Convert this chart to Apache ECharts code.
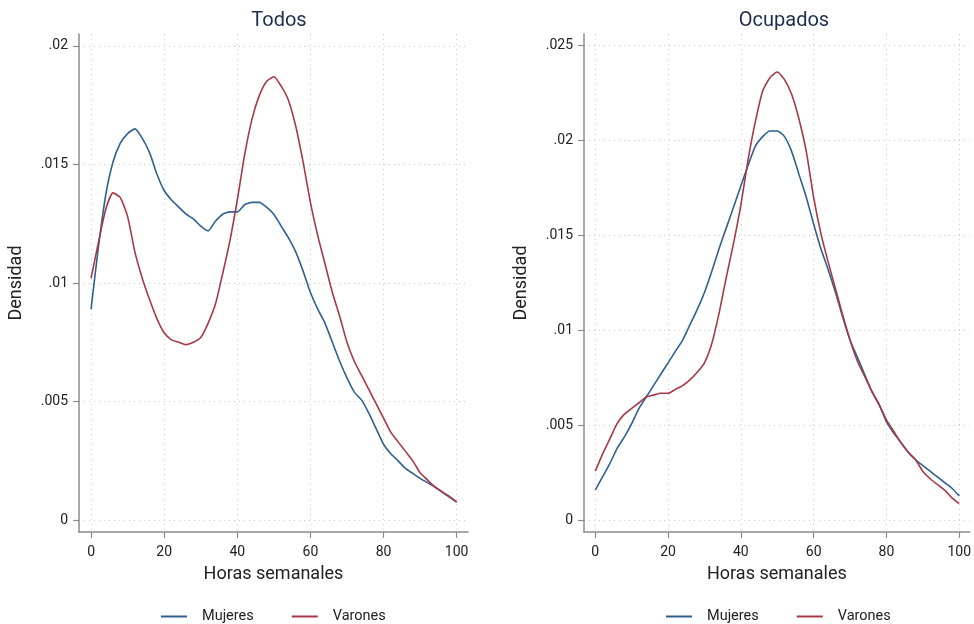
<!DOCTYPE html>
<html>
<head>
<meta charset="utf-8">
<script src="https://cdn.jsdelivr.net/npm/echarts@6/dist/echarts.min.js"></script>
<style>
  html, body { margin: 0; padding: 0; background: #fff; }
  #chart { width: 974px; height: 624px; }
</style>
</head>
<body>
<div id="chart"></div>
<script>
// horas semanales (0..100 cada 2)
const hours = [0, 2, 4, 6, 8, 10, 12, 14, 16, 18, 20, 22, 24, 26, 28, 30, 32, 34, 36, 38, 40, 42, 44, 46, 48, 50,
  52, 54, 56, 58, 60, 62, 64, 66, 68, 70, 72, 74, 76, 78, 80, 82, 84, 86, 88, 90, 92, 94, 96, 98, 100]

// Todos
const todosMujeres = [0.0089, 0.0115, 0.0137, 0.0151, 0.0159, 0.0163, 0.0165, 0.0161, 0.0155, 0.0146, 0.0139, 0.0135,
  0.0132, 0.0129, 0.0127, 0.0124, 0.0122, 0.0126, 0.0129, 0.0130, 0.0130, 0.0133, 0.0134, 0.0134, 0.0132, 0.0129,
  0.0124, 0.0119, 0.0113, 0.0105, 0.0096, 0.0089, 0.0083, 0.0075, 0.0067, 0.0060, 0.0054, 0.00506, 0.0045, 0.00385,
  0.0032, 0.0028, 0.0025, 0.00218, 0.00197, 0.00176, 0.00158, 0.00141, 0.00118, 0.00097, 0.00076]
const todosVarones = [0.0102, 0.0117, 0.0131, 0.0138, 0.0136, 0.0128, 0.0113, 0.0102, 0.0093, 0.0085, 0.0079, 0.0076,
  0.0075, 0.0074, 0.0075, 0.0077, 0.0083, 0.0091, 0.0104, 0.0118, 0.0135, 0.0154, 0.0169, 0.0179, 0.0185, 0.0187,
  0.0183, 0.0177, 0.0166, 0.0151, 0.0134, 0.0120, 0.0108, 0.0096, 0.0086, 0.0075, 0.0067, 0.0061, 0.0055, 0.0049,
  0.0043, 0.0037, 0.0033, 0.0029, 0.0025, 0.0020, 0.0017, 0.0014, 0.0012, 0.0010, 0.00076]

// Ocupados
const ocupMujeres = [0.0016, 0.0023, 0.0030, 0.0038, 0.0044, 0.0051, 0.0059, 0.0065, 0.0071, 0.0077, 0.0083, 0.0089,
  0.0095, 0.0103, 0.0111, 0.0120, 0.0131, 0.0143, 0.0154, 0.0165, 0.0176, 0.0187, 0.0197, 0.0202, 0.0205, 0.0205,
  0.0202, 0.0194, 0.0182, 0.0170, 0.0156, 0.0143, 0.0132, 0.0120, 0.0107, 0.0095, 0.0086, 0.0077, 0.0068, 0.0061,
  0.0052, 0.0046, 0.0041, 0.0036, 0.0032, 0.0029, 0.0026, 0.0023, 0.0020, 0.0017, 0.0013]
const ocupVarones = [0.0026, 0.0035, 0.0043, 0.0051, 0.0056, 0.0059, 0.0062, 0.0065, 0.0066, 0.0067, 0.0067, 0.0069,
  0.0071, 0.0074, 0.0078, 0.0083, 0.0093, 0.0109, 0.0128, 0.0146, 0.0166, 0.0190, 0.0210, 0.0226, 0.0233, 0.0236,
  0.0232, 0.0224, 0.0211, 0.0194, 0.0170, 0.0151, 0.0136, 0.0122, 0.0108, 0.0095, 0.0084, 0.0076, 0.0068, 0.0061,
  0.0053, 0.0047, 0.0041, 0.0036, 0.0032, 0.0026, 0.0022, 0.0019, 0.0016, 0.0012, 0.0009]

const xTicks = [0, 20, 40, 60, 80, 100]
const yTicksTodos = [0, 0.005, 0.01, 0.015, 0.02]
const yTicksOcup = [0, 0.005, 0.01, 0.015, 0.02, 0.025]

const BLUE = '#2f6090'
const RED = '#a93845'
const FONT = 'Roboto'

const fmtY = (v) => (v === 0 ? '0' : String(+v.toFixed(4)).replace(/^0/, ''))
const pairs = (ys) => hours.map((h, i) => [h, ys[i]])

const gridLine = { show: true, lineStyle: { color: '#c8c8c8', type: [1, 4], width: 1 } }
const axisLine = { show: true, onZero: false, lineStyle: { color: '#8c8c8c', width: 1.5 } }

const makeX = (gi, min, max) => ({
  gridIndex: gi, type: 'value', min, max,
  name: 'Horas semanales', nameLocation: 'middle', nameGap: 33,
  nameTextStyle: { fontFamily: FONT, fontSize: 18, color: '#222' },
  axisLine,
  axisTick: { show: true, customValues: xTicks, length: 6, lineStyle: { color: '#8c8c8c', width: 1.2 } },
  axisLabel: { customValues: xTicks, fontFamily: FONT, fontSize: 14, color: '#222', margin: 13 },
  splitLine: gridLine
})

const makeY = (gi, min, max, ticks) => ({
  gridIndex: gi, type: 'value', min, max,
  name: 'Densidad', nameLocation: 'middle', nameGap: 54,
  nameTextStyle: { fontFamily: FONT, fontSize: 18, color: '#222' },
  axisLine,
  axisTick: { show: true, customValues: ticks, length: 6, lineStyle: { color: '#8c8c8c', width: 1.2 } },
  axisLabel: { customValues: ticks, fontFamily: FONT, fontSize: 14, color: '#222', margin: 11, formatter: fmtY },
  splitLine: gridLine
})

const line = (name, gi, ys, color) => ({
  name, type: 'line', xAxisIndex: gi, yAxisIndex: gi,
  data: pairs(ys), showSymbol: false, smooth: 0.2,
  lineStyle: { color, width: 1.6 }, itemStyle: { color }
})

const legend = (left) => ({
  left, top: 604, orient: 'horizontal',
  data: ['Mujeres', 'Varones'],
  icon: 'rect', itemWidth: 26, itemHeight: 2, itemGap: 38,
  textStyle: { fontFamily: FONT, fontSize: 14.5, color: '#222', padding: [0, 0, 0, 10] }
})

const chart = echarts.init(document.getElementById('chart'))
chart.setOption({
  animation: false,
  backgroundColor: '#fff',
  title: [
    { text: 'Todos', left: 274, top: 6, textAlign: 'center', textStyle: { fontFamily: FONT, fontSize: 20, fontWeight: 'normal', color: '#1e2e4d' } },
    { text: 'Ocupados', left: 779, top: 6, textAlign: 'center', textStyle: { fontFamily: FONT, fontSize: 20, fontWeight: 'normal', color: '#1e2e4d' } }
  ],
  legend: [legend(156), legend(661)],
  grid: [
    { left: 79, top: 34, width: 389, height: 498 },
    { left: 584, top: 34, width: 388, height: 498 }
  ],
  xAxis: [makeX(0, -3.3, 103.1), makeX(1, -3.1, 102.9)],
  yAxis: [makeY(0, -0.0005, 0.0205, yTicksTodos), makeY(1, -0.0006, 0.0256, yTicksOcup)],
  series: [
    line('Mujeres', 0, todosMujeres, BLUE),
    line('Varones', 0, todosVarones, RED),
    line('Mujeres', 1, ocupMujeres, BLUE),
    line('Varones', 1, ocupVarones, RED)
  ]
})
</script>
</body>
</html>
